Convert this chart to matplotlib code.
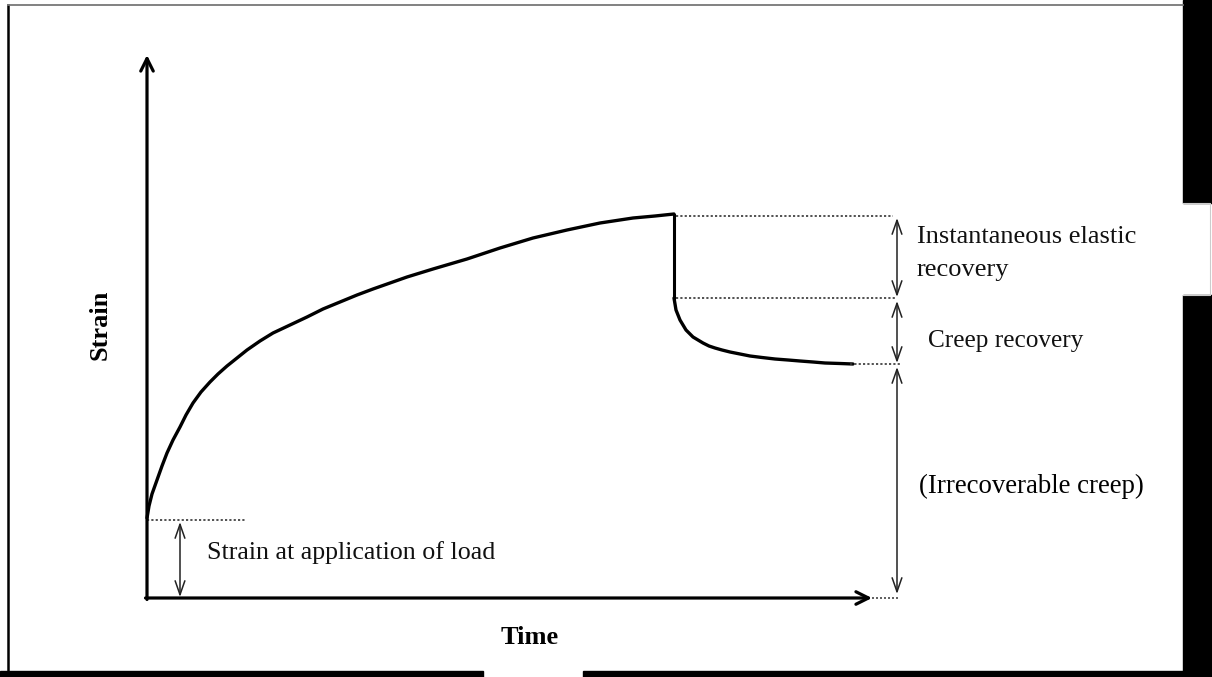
import matplotlib
matplotlib.use("Agg")
import matplotlib.pyplot as plt
from matplotlib.patches import Rectangle

# ---- data (in image pixel coordinates) ----
load_x = [147, 149, 152, 157, 162, 167, 173, 180, 186, 193, 201, 210, 218, 227, 237, 247, 260, 273,
          290, 307, 323, 340, 357, 373, 390, 407, 433, 467, 500, 533, 567, 600, 633, 655, 674]
load_y = [518, 506, 494, 480, 466, 453, 440, 427, 415, 403, 392, 382, 374, 366, 358, 350, 341, 333,
          325, 317, 309, 302, 295, 289, 283, 277, 269, 259, 248, 238, 230, 223, 218, 216, 214]
rec_x = [674, 675, 676, 678, 680, 683, 686, 690, 693, 698, 703, 709, 715, 722, 730, 740, 750, 762,
         775, 788, 800, 813, 825, 840, 853]
rec_y = [298, 304, 310, 315, 320, 325, 330, 334, 337, 340, 343, 346, 348, 350, 352, 354, 356, 357.5,
         359, 360, 361, 362, 363, 363.5, 364]
origin = (147, 598)
peak_y = 215
drop_y = 298
final_y = 364
load_level_y = 520

inst_lines = ["Instantaneous elastic", "recovery"]
creep_label = "Creep recovery"
irr_label = "(Irrecoverable creep)"
load_label = "Strain at application of load"
x_label = "Time"
y_label = "Strain"

W, H = 1212, 677
fig = plt.figure(figsize=(W / 100, H / 100), dpi=100)
ax = fig.add_axes([0, 0, 1, 1])
ax.set_xlim(0, W)
ax.set_ylim(H, 0)
ax.axis("off")

serif = ["Liberation Serif", "DejaVu Serif"]

# frame decorations
ax.plot([8, 8], [5, 671], color="black", lw=1.8)
ax.plot([8, 1183], [5, 5], color="#777777", lw=1.3)
ax.add_patch(Rectangle((1183, 0), 29, 203, color="black"))
ax.add_patch(Rectangle((1183, 295), 29, 382, color="black"))
ax.plot([1183, 1210, 1210, 1183], [203, 203, 295, 295], color="#cccccc", lw=0.8)
ax.add_patch(Rectangle((0, 671), 483, 6, color="black"))
ax.add_patch(Rectangle((583, 671), 629, 6, color="black"))

# axes arrows
ox, oy = origin
ax.annotate("", xy=(ox, 55), xytext=(ox, oy + 1.5),
            arrowprops=dict(arrowstyle="->,head_length=0.9,head_width=0.45", lw=2.3, color="black",
                            shrinkA=0, shrinkB=0))
ax.annotate("", xy=(872, oy), xytext=(ox - 1.5, oy),
            arrowprops=dict(arrowstyle="->,head_length=0.9,head_width=0.45", lw=2.3, color="black",
                            shrinkA=0, shrinkB=0))
ax.plot([872, 900], [oy, oy], color="#444444", lw=1.2, ls=(0, (1.2, 1.2)))

# curves
ax.plot(load_x, load_y, color="black", lw=2.4, solid_capstyle="round", solid_joinstyle="round")
ax.plot([load_x[-1], load_x[-1]], [peak_y, drop_y], color="black", lw=2.2)
ax.plot(rec_x, rec_y, color="black", lw=2.4, solid_capstyle="round", solid_joinstyle="round")

# dotted guide lines
dot = dict(color="#333333", lw=1.2, ls=(0, (1.3, 1.3)))
ax.plot([676, 893], [peak_y + 1, peak_y + 1], **dot)
ax.plot([676, 897], [drop_y, drop_y], **dot)
ax.plot([850, 900], [final_y, final_y], **dot)
ax.plot([ox, 245], [load_level_y, load_level_y], **dot)

# double arrows
def darrow(x, y0, y1):
    ax.annotate("", xy=(x, y1), xytext=(x, y0),
                arrowprops=dict(arrowstyle="<->,head_length=1.0,head_width=0.35", lw=1.1,
                                color="#222222", shrinkA=0, shrinkB=0))

darrow(897, peak_y + 3, drop_y - 1)
darrow(897, drop_y + 3, final_y - 1)
darrow(897, final_y + 3, oy - 4)
darrow(180, load_level_y + 2, oy - 1)

# texts
ax.text(917, 243, inst_lines[0], fontsize=19, family=serif, va="baseline", ha="left",
        color="#111111")
ax.text(917, 276, inst_lines[1], fontsize=19, family=serif, va="baseline", ha="left",
        color="#111111")
ax.text(928, 347, creep_label, fontsize=18.2, family=serif, va="baseline", ha="left",
        color="#111111")
ax.text(919, 493, irr_label, fontsize=19.3, family=serif, va="baseline", ha="left",
        color="black")
ax.text(207, 559, load_label, fontsize=18.7, family=serif, va="baseline", ha="left",
        color="#111111")
ax.text(530, 637, x_label, fontsize=19, family=serif, fontweight="bold",
        va="center", ha="center")
ax.text(100, 325, y_label, fontsize=19, family=serif, fontweight="bold",
        va="center", ha="center", rotation=90)

fig.savefig("out.png", dpi=100, facecolor="white")
